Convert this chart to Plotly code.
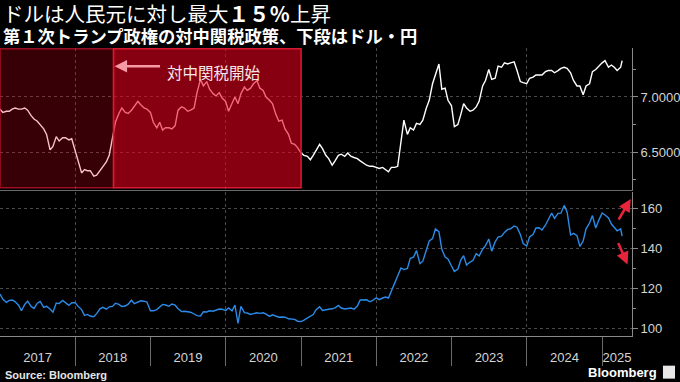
import pandas as pd
import plotly.graph_objects as go

# ---------------- data (semi-monthly: 1st and 15th of each month) ----------------
CNY_2017 = [6.89, 6.86, 6.87, 6.87, 6.89, 6.90, 6.89, 6.89, 6.90, 6.88, 6.83, 6.80,
            6.78, 6.75, 6.71, 6.66, 6.52, 6.55, 6.64, 6.60, 6.63, 6.63, 6.61, 6.62]
CNY_2018 = [6.51, 6.43, 6.31, 6.34, 6.33, 6.33, 6.28, 6.29, 6.33, 6.37, 6.41, 6.47,
            6.63, 6.77, 6.85, 6.90, 6.86, 6.85, 6.88, 6.92, 6.96, 6.93, 6.90, 6.89]
CNY_2019 = [6.86, 6.77, 6.72, 6.77, 6.70, 6.72, 6.72, 6.71, 6.74, 6.88, 6.91, 6.90,
            6.87, 6.88, 6.90, 7.04, 7.16, 7.10, 7.14, 7.07, 7.03, 7.01, 7.04, 6.99]
CNY_2020 = [6.96, 6.87, 6.95, 7.00, 6.94, 7.03, 7.09, 7.06, 7.08, 7.12, 7.15, 7.08,
            7.06, 7.00, 6.97, 6.94, 6.84, 6.78, 6.79, 6.71, 6.66, 6.58, 6.57, 6.54]
CNY_2021 = [6.49, 6.47, 6.46, 6.43, 6.47, 6.51, 6.57, 6.53, 6.47, 6.44, 6.38, 6.42,
            6.47, 6.48, 6.46, 6.49, 6.46, 6.45, 6.44, 6.42, 6.40, 6.38, 6.37, 6.37]
CNY_2022 = [6.36, 6.35, 6.36, 6.34, 6.32, 6.36, 6.36, 6.37, 6.62, 6.79, 6.66, 6.72,
            6.70, 6.76, 6.75, 6.79, 6.90, 6.97, 7.12, 7.20, 7.30, 7.07, 7.08, 6.97]
CNY_2023 = [6.92, 6.73, 6.75, 6.84, 6.94, 6.90, 6.87, 6.88, 6.91, 6.96, 7.10, 7.15,
            7.25, 7.16, 7.17, 7.28, 7.27, 7.31, 7.30, 7.31, 7.32, 7.24, 7.14, 7.13]
CNY_2024 = [7.12, 7.17, 7.18, 7.20, 7.20, 7.20, 7.23, 7.24, 7.24, 7.22, 7.24, 7.26,
            7.27, 7.26, 7.22, 7.15, 7.10, 7.10, 7.02, 7.10, 7.12, 7.23, 7.25, 7.28]
CNY_2025 = [7.31, 7.33, 7.27, 7.29, 7.27, 7.24, 7.27, 7.33]

JPY_2017 = [117.0, 114.3, 112.8, 113.8, 114.0, 113.2, 111.4, 108.6, 111.8, 113.4, 110.8, 109.8,
            112.4, 113.3, 110.3, 110.8, 109.5, 107.9, 112.5, 112.2, 113.8, 112.8, 111.3, 112.6]
JPY_2018 = [112.7, 110.8, 109.2, 106.3, 106.8, 106.0, 105.6, 107.2, 109.6, 110.3, 109.4, 110.6,
            110.8, 112.4, 111.8, 110.8, 111.0, 111.9, 113.9, 112.2, 112.8, 113.6, 113.4, 113.0]
JPY_2019 = [108.6, 108.6, 109.2, 110.5, 111.8, 111.5, 110.9, 112.0, 111.4, 109.6, 108.2, 108.4,
            108.3, 107.9, 107.0, 106.2, 106.0, 108.1, 108.0, 108.6, 108.4, 108.8, 109.5, 109.4]
JPY_2020 = [108.7, 110.0, 108.6, 111.5, 102.3, 110.8, 107.7, 107.5, 106.8, 107.2, 107.6, 107.3,
            107.6, 106.9, 105.8, 106.6, 105.9, 105.4, 105.5, 105.4, 104.6, 104.6, 104.3, 103.4]
JPY_2021 = [103.2, 103.9, 104.9, 105.6, 106.7, 109.2, 110.6, 108.8, 109.3, 109.4, 109.6, 110.1,
            111.3, 110.0, 109.5, 109.6, 110.0, 109.4, 111.0, 114.0, 114.0, 114.1, 113.1, 113.8]
JPY_2022 = [115.1, 114.2, 115.0, 115.5, 115.0, 118.5, 122.5, 126.4, 130.0, 129.2, 129.8, 134.8,
            135.4, 138.8, 132.2, 133.4, 139.0, 143.5, 144.7, 149.5, 148.2, 139.4, 135.5, 134.5]
JPY_2023 = [131.0, 128.3, 129.5, 134.0, 136.2, 131.5, 133.0, 133.7, 137.2, 136.0, 139.4, 141.2,
            144.5, 138.4, 143.1, 145.5, 145.9, 147.8, 149.3, 149.6, 151.0, 150.4, 146.8, 142.2]
JPY_2024 = [141.0, 145.5, 146.8, 150.0, 150.1, 149.0, 151.4, 154.2, 157.5, 154.8, 157.3, 157.4,
            161.3, 158.0, 146.5, 147.3, 146.2, 140.8, 143.5, 149.6, 152.5, 156.2, 150.0, 153.7]
JPY_2025 = [157.5, 156.5, 155.0, 152.0, 150.5, 148.6, 149.6, 146.0]

LAST_DATE = "2025-04-08"
TARIFF_START = "2018-07-06"
TRUMP1_END = "2021-01-01"
X_RANGE = ["2017-01-01", "2025-05-26"]
YEARS = list(range(2017, 2026))
YEAR_LABELS = [str(y) for y in YEARS]
CNY_TICKS = [6.5, 7.0]
JPY_TICKS = [100, 120, 140, 160]

TITLE = "ドルは人民元に対し最大<b>１５％</b>上昇"
SUBTITLE = "<b>第１次トランプ政権の対中関税政策、下段はドル・円</b>"
ANNOT = "対中関税開始"
SOURCE = "<b>Source: Bloomberg</b>"

# ---------------- assemble ----------------
CNY = (CNY_2017 + CNY_2018 + CNY_2019 + CNY_2020 + CNY_2021 + CNY_2022
       + CNY_2023 + CNY_2024 + CNY_2025)
JPY = (JPY_2017 + JPY_2018 + JPY_2019 + JPY_2020 + JPY_2021 + JPY_2022
       + JPY_2023 + JPY_2024 + JPY_2025)

DATES = []
for y in YEARS:
    for m in range(1, 13):
        for d in (1, 15):
            t = pd.Timestamp(y, m, d)
            if t <= pd.Timestamp("2025-04-01"):
                DATES.append(t)
DATES.append(pd.Timestamp(LAST_DATE))
assert len(DATES) == len(CNY) == len(JPY)

r0, r1 = pd.Timestamp(X_RANGE[0]), pd.Timestamp(X_RANGE[1])
YEAR_STARTS = [pd.Timestamp(y, 1, 1) for y in YEARS[1:]]
GRID_YEARS = [pd.Timestamp(y, 1, 1) for y in YEARS[1:] if y % 2 == 0]
YEAR_MIDS = []
for y in YEARS:
    a = max(pd.Timestamp(y, 1, 1), r0)
    b = min(pd.Timestamp(y + 1, 1, 1), r1)
    YEAR_MIDS.append(a + (b - a) / 2)

GRID = "#4a4a4a"
AXIS = "#8a8a8a"
TICKF = dict(family="Liberation Sans, Arial", size=13, color="#d4d4d4")
CJK = "Noto Sans CJK JP"

fig = go.Figure()
fig.add_trace(go.Scatter(x=DATES, y=CNY, mode="lines", line=dict(color="#ffffff", width=1.4),
                         xaxis="x", yaxis="y", showlegend=False, hoverinfo="skip"))
fig.add_trace(go.Scatter(x=DATES, y=JPY, mode="lines", line=dict(color="#2b8be8", width=1.4),
                         xaxis="x2", yaxis="y2", showlegend=False, hoverinfo="skip"))
fig.add_trace(go.Scatter(x=[DATES[0]], y=[JPY[0]], mode="markers", marker=dict(opacity=0),
                         xaxis="x3", yaxis="y2", showlegend=False, hoverinfo="skip"))

common_y = dict(side="right", ticks="outside", ticklen=5, tickcolor=AXIS, showline=True,
                linecolor=AXIS, linewidth=1, showgrid=True, gridcolor=GRID, griddash="dot",
                gridwidth=1, zeroline=False, tickfont=TICKF, fixedrange=True)

fig.update_layout(
    width=680, height=382,
    paper_bgcolor="#000000", plot_bgcolor="#000000",
    margin=dict(l=0, r=46, t=48, b=46),
    showlegend=False,
    xaxis=dict(domain=[0, 1], anchor="y", type="date", range=X_RANGE, tickvals=GRID_YEARS,
               showgrid=True, gridcolor=GRID, griddash="dot", showticklabels=False, ticks="",
               showline=True, linecolor="#6a6a6a", zeroline=False),
    yaxis=dict(domain=[0.507, 1], anchor="x", range=[6.155, 7.445], tickvals=CNY_TICKS,
               tickformat=".4f",
               minor=dict(tickvals=[6.25, 6.75, 7.25], ticks="outside", ticklen=3,
                          tickcolor=AXIS, showgrid=False),
               **common_y),
    xaxis2=dict(domain=[0, 1], anchor="y2", type="date", range=X_RANGE, tickvals=GRID_YEARS,
                showgrid=True, gridcolor=GRID, griddash="dot", showticklabels=False,
                ticks="outside", ticklen=29, tickcolor="#6a6a6a",
                minor=dict(tickvals=YEAR_STARTS, ticks="outside", ticklen=29,
                           tickcolor="#6a6a6a", showgrid=False),
                showline=True, linecolor="#8a8a8a", zeroline=False),
    xaxis3=dict(overlaying="x2", anchor="y2", type="date", range=X_RANGE,
                tickvals=YEAR_MIDS, ticktext=YEAR_LABELS, ticks="outside", ticklen=9,
                tickcolor="rgba(0,0,0,0)", showgrid=False, showline=False, zeroline=False,
                tickfont=TICKF),
    yaxis2=dict(domain=[0, 0.5], anchor="x2", range=[96, 168], tickvals=JPY_TICKS,
                minor=dict(tickvals=[110, 130, 150], ticks="outside", ticklen=3,
                           tickcolor=AXIS, showgrid=False),
                **common_y),
)

# shaded first-Trump-term box
fig.add_shape(type="rect", xref="x", yref="y domain", x0=DATES[0], x1=TARIFF_START,
              y0=0.015, y1=0.995, layer="above", fillcolor="rgba(232,0,30,0.24)",
              line=dict(color="rgba(200,20,45,0.75)", width=1.5))
fig.add_shape(type="rect", xref="x", yref="y domain", x0=TARIFF_START, x1=TRUMP1_END,
              y0=0.015, y1=0.995, layer="above", fillcolor="rgba(232,0,30,0.58)",
              line=dict(color="#d81a32", width=1.5))

# tariff annotation
fig.add_annotation(x=TARIFF_START, y=7.28, xref="x", yref="y", text="", showarrow=True,
                   ax=48, ay=0, arrowhead=2, arrowsize=1, arrowwidth=2.5,
                   arrowcolor="#f59aa4", standoff=1)
fig.add_annotation(x=TARIFF_START, y=7.225, xref="x", yref="y", text=ANNOT, showarrow=False,
                   xanchor="left", xshift=51,
                   font=dict(family=CJK, size=15.5, color="#f7e6e8"))

# red arrows on the right of the lower panel
fig.add_annotation(x=0.998, y=164.5, xref="paper", yref="y2", text="", showarrow=True,
                   ax=-13, ay=22, arrowhead=2, arrowsize=1, arrowwidth=2.5, arrowcolor="#e8243a")
fig.add_annotation(x=0.993, y=131.8, xref="paper", yref="y2", text="", showarrow=True,
                   ax=-10, ay=-23, arrowhead=2, arrowsize=1, arrowwidth=2.5, arrowcolor="#e8243a")

# titles and footer
fig.add_annotation(x=0, y=1.121, xref="paper", yref="paper", xanchor="left", yanchor="middle",
                   xshift=2, text=TITLE, showarrow=False, borderpad=0,
                   font=dict(family=CJK, size=20.5, color="#ffffff"))
fig.add_annotation(x=0, y=1.045, xref="paper", yref="paper", xanchor="left", yanchor="middle",
                   xshift=2, text=SUBTITLE, showarrow=False, borderpad=0,
                   font=dict(family=CJK, size=17.3, color="#ffffff"))
fig.add_annotation(x=0, y=-0.135, xref="paper", yref="paper", xanchor="left", yanchor="middle",
                   xshift=3, text=SOURCE, showarrow=False,
                   font=dict(family="Liberation Sans, Arial", size=11, color="#e6e6e6"))
fig.add_annotation(x=1.042, y=-0.126, xref="paper", yref="paper", xanchor="right",
                   yanchor="middle", text="<b>Bloomberg</b>", showarrow=False,
                   font=dict(family="Liberation Sans, Arial", size=13, color="#ffffff"))
fig.add_shape(type="rect", xref="paper", yref="paper", x0=1.049, x1=1.068, y0=-0.148, y1=-0.103,
              fillcolor="#e8e8e8", line=dict(width=0))

fig.write_html("out.html", config={"displayModeBar": False},
               post_script="document.body.style.margin='0';document.body.style.overflow='hidden';")
